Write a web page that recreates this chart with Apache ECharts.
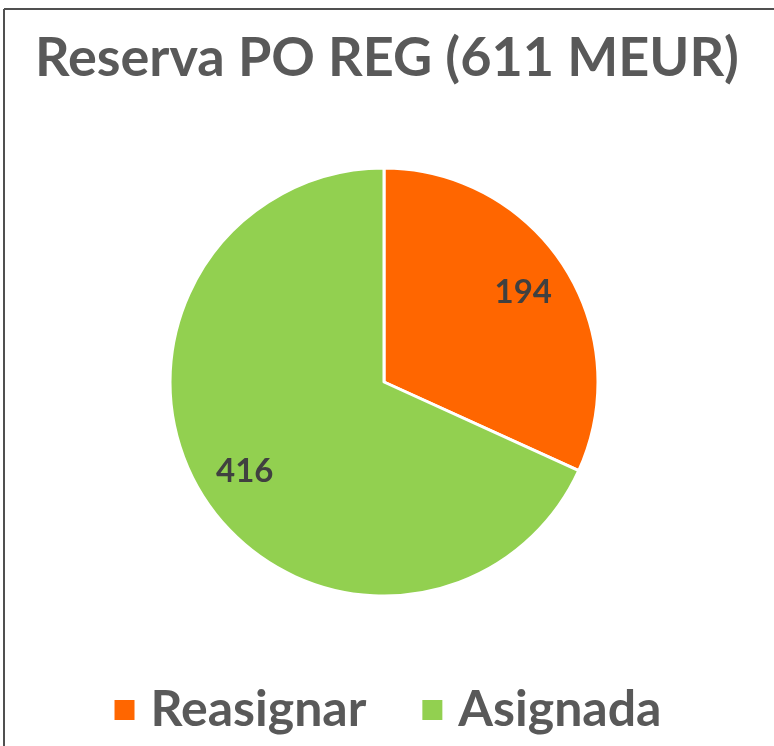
<!DOCTYPE html>
<html>
<head>
<meta charset="utf-8">
<script src="https://cdn.jsdelivr.net/npm/echarts@6/dist/echarts.min.js"></script>
<style>
  html, body { margin: 0; padding: 0; background: #fff; }
  #chart { width: 774px; height: 746px; }
</style>
</head>
<body>
<div id="chart"></div>
<script>
const categories = ['Reasignar', 'Asignada'];
const values = [194, 416];
const colors = ['#FF6600', '#92D050'];
const titleText = 'Reserva PO REG (611 MEUR)';

const chart = echarts.init(document.getElementById('chart'));
const R = 214;
const pieData = categories.map((c, i) => ({ name: c, value: values[i], itemStyle: { color: colors[i] } }));

chart.setOption({
  animation: false,
  title: {
    text: titleText,
    left: 'center',
    top: 27,
    textStyle: { fontFamily: 'Lato', fontWeight: 'bold', fontSize: 54, color: '#595959' }
  },
  legend: {
    data: categories,
    bottom: 6,
    left: 'center',
    icon: 'rect',
    itemWidth: 22,
    itemHeight: 22,
    itemGap: 54,
    textStyle: { fontFamily: 'Lato', fontWeight: 'bold', fontSize: 50, color: '#595959', padding: [0, 0, 0, 10] }
  },
  graphic: [
    { type: 'line', shape: { x1: 4, y1: 9, x2: 774, y2: 9 }, style: { stroke: '#505050', lineWidth: 2 } },
    { type: 'line', shape: { x1: 4, y1: 9, x2: 4, y2: 746 }, style: { stroke: '#505050', lineWidth: 2 } }
  ],
  series: [
    {
      type: 'pie',
      center: [384, 382],
      radius: [0, R],
      startAngle: 90,
      clockwise: true,
      label: { show: false },
      labelLine: { show: false },
      itemStyle: { borderColor: '#fff', borderWidth: 3 },
      data: pieData
    },
    {
      // transparent ring only used to place the value labels further out
      type: 'pie',
      center: [384, 382],
      radius: [R * 0.52, R],
      startAngle: 90,
      clockwise: true,
      silent: true,
      legendHoverLink: false,
      itemStyle: { color: 'rgba(0,0,0,0)', borderWidth: 0 },
      label: {
        show: true,
        position: 'inside',
        formatter: '{c}',
        fontFamily: 'Lato',
        fontWeight: 'bold',
        fontSize: 33,
        color: '#404040'
      },
      labelLine: { show: false },
      data: categories.map((c, i) => ({ name: c + ' ', value: values[i] }))
    }
  ]
});
window.addEventListener('resize', function () { chart.resize(); });
</script>
</body>
</html>
